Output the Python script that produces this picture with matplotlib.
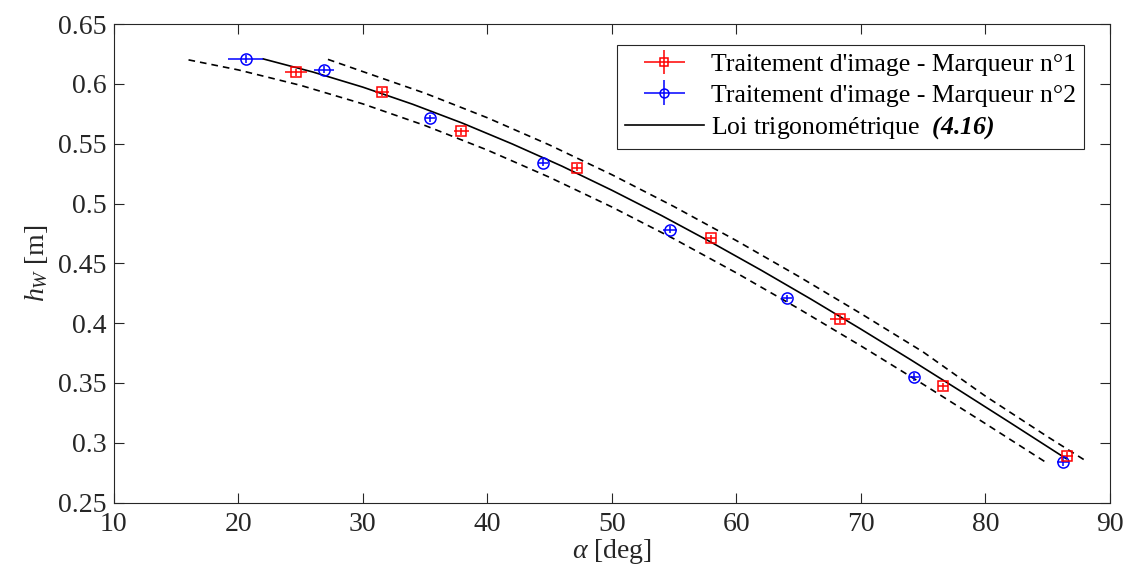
import matplotlib

matplotlib.use("Agg")
import matplotlib.pyplot as plt
from matplotlib.container import ErrorbarContainer
from matplotlib.legend_handler import HandlerErrorbar

plt.rcParams.update(
    {
        "font.family": ["Liberation Serif", "DejaVu Serif"],
        "mathtext.fontset": "custom",
        "mathtext.rm": "Liberation Serif",
        "mathtext.it": "Liberation Serif:italic",
        "mathtext.bf": "Liberation Serif:bold",
        "mathtext.bfit": "Liberation Serif:italic:bold",
    }
)

# Marker 1 (red squares)
alpha_m1 = [24.63, 31.54, 37.89, 47.18, 57.94, 68.33, 76.63, 86.54]
h_m1 = [0.6097, 0.5932, 0.5604, 0.5299, 0.4709, 0.4034, 0.3472, 0.2891]
xerr_m1 = [0.9, 0.55, 0.6, 0.4, 0.45, 0.8, 0.4, 0.5]
yerr_m1 = [0.003] * 8

# Marker 2 (blue circles)
alpha_m2 = [20.59, 26.86, 35.40, 44.50, 54.70, 64.10, 74.30, 86.22]
h_m2 = [0.6208, 0.6119, 0.5712, 0.5341, 0.4781, 0.4207, 0.3549, 0.2839]
xerr_m2 = [1.4, 0.8, 0.4, 0.4, 0.55, 0.4, 0.4, 0.5]
yerr_m2 = [0.003] * 8

# Trigonometric law (solid) and bounds (dashed)
alpha_law = [22, 26, 30, 34, 38, 42, 46, 50, 54, 58, 62, 66, 70, 74, 78, 82, 86.5]
h_law = [0.6209, 0.6099, 0.5973, 0.5830, 0.5672, 0.5498, 0.5312, 0.5111, 0.4899,
         0.4675, 0.4442, 0.4200, 0.3950, 0.3694, 0.3432, 0.3167, 0.2866]

alpha_low = [16, 20, 25, 30, 35, 40, 45, 50, 55, 60, 65, 70, 75, 80, 85]
h_low = [0.6201, 0.6117, 0.5988, 0.5833, 0.5652, 0.5447, 0.5219, 0.4971, 0.4704,
         0.4420, 0.4121, 0.3810, 0.3489, 0.3160, 0.2827]

alpha_up = [27.2, 30, 35, 40, 45, 50, 55, 60, 65, 70, 75, 80, 85, 88.2]
h_up = [0.6205, 0.6103, 0.5922, 0.5717, 0.5489, 0.5241, 0.4974, 0.4690, 0.4391,
        0.4080, 0.3759, 0.3390, 0.3050, 0.2840]

yticks = [0.25, 0.3, 0.35, 0.4, 0.45, 0.5, 0.55, 0.6, 0.65]
ytick_labels = ["0.25", "0.3", "0.35", "0.4", "0.45", "0.5", "0.55", "0.6", "0.65"]
legend_labels = [
    "Traitement d'image - Marqueur n°1",
    "Traitement d'image - Marqueur n°2",
    r"Loi trigonométrique  $\mathbfit{(4.16)}$",
]

AX_COLOR = "#262626"

fig = plt.figure(figsize=(11.28, 5.78), dpi=100)
ax = fig.add_axes([0.1009, 0.1306, 0.883, 0.8277])

ax.plot(alpha_low, h_low, color="black", lw=1.2, ls=(0, (4, 3)))
ax.plot(alpha_up, h_up, color="black", lw=1.2, ls=(0, (4, 3)))
(law_line,) = ax.plot(alpha_law, h_law, color="black", lw=1.2)

e2 = ax.errorbar(alpha_m2, h_m2, xerr=xerr_m2, yerr=yerr_m2, fmt="o", color="#0000ff",
                 mfc="none", ms=8, mew=1.1, elinewidth=1.1, capsize=0)
e1 = ax.errorbar(alpha_m1, h_m1, xerr=xerr_m1, yerr=yerr_m1, fmt="s", color="#ff0000",
                 mfc="none", ms=7, mew=1.1, elinewidth=1.1, capsize=0)

ax.set_xlim(10, 90)
ax.set_ylim(0.25, 0.65)
ax.set_xticks(range(10, 91, 10))
ax.set_yticks(yticks)
ax.set_yticklabels(ytick_labels)
ax.tick_params(direction="in", top=True, right=True, length=7, width=0.8,
               labelsize=20, colors=AX_COLOR)
ax.tick_params(axis="x", pad=7)
ax.tick_params(axis="y", pad=5)
for s in ax.spines.values():
    s.set_color(AX_COLOR)
    s.set_linewidth(0.8)

ax.set_xlabel(r"$\alpha$ [deg]", fontsize=20, color=AX_COLOR, labelpad=0)
ax.set_ylabel(r"$h_W$ [m]", fontsize=20, color=AX_COLOR, labelpad=6)

leg = ax.legend(
    [e1, e2, law_line], legend_labels,
    handler_map={ErrorbarContainer: HandlerErrorbar(xerr_size=0.78, yerr_size=0.47)},
    loc="upper right", bbox_to_anchor=(0.974, 0.956), borderaxespad=0,
    fontsize=18.5, handlelength=3.06, handletextpad=0.29, labelspacing=0.3,
    borderpad=0.3, fancybox=False, framealpha=1, edgecolor=AX_COLOR,
    markerscale=0.8,
)
leg.get_frame().set_linewidth(0.8)

fig.savefig("out.png", dpi=100)
